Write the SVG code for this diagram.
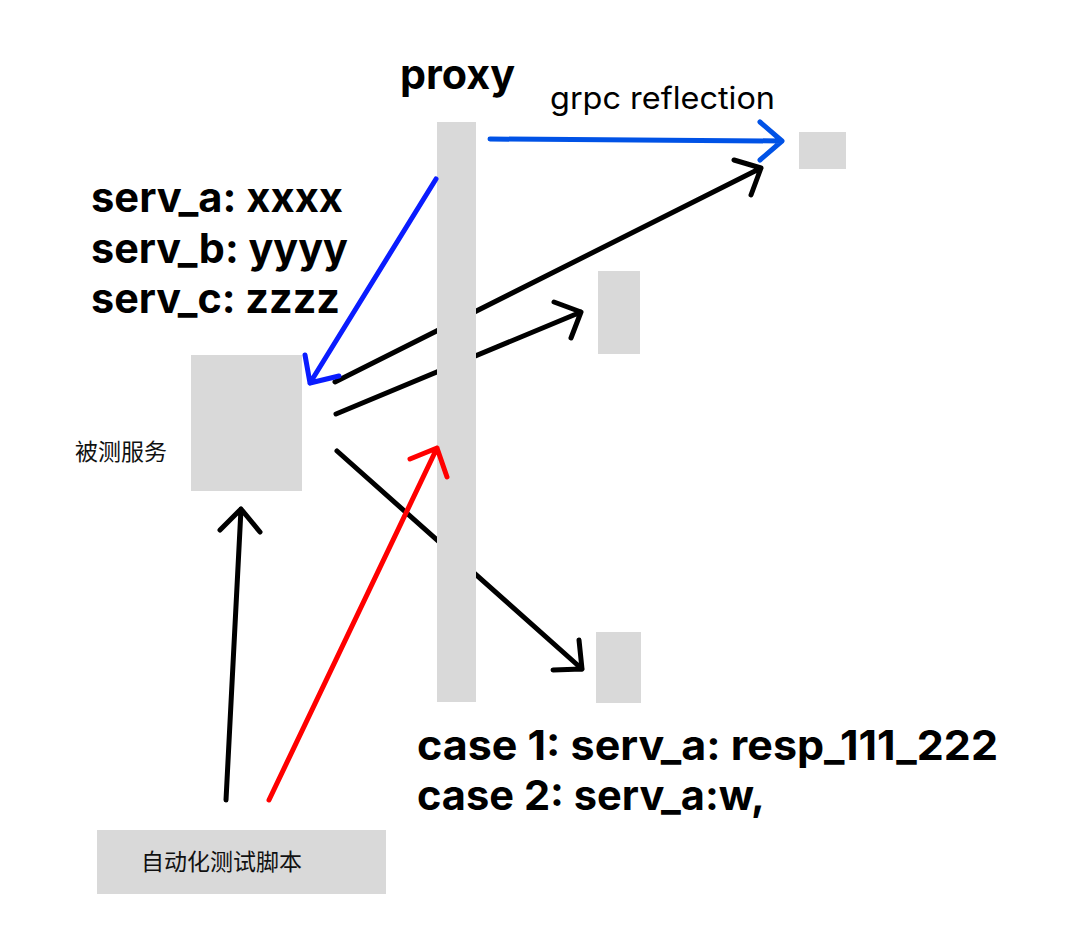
<svg xmlns="http://www.w3.org/2000/svg" width="1080" height="929" viewBox="0 0 1080 929">
<style>
.box{fill:#d9d9d9}
.ln{fill:none;stroke-width:5;stroke-linecap:round;stroke-linejoin:round}
.k{stroke:#000}
.b1{stroke:#0052e6}
.b2{stroke:#0a1cff}
.r{stroke:#ff0000}
.big{font-family:Inter,"Liberation Sans",sans-serif;font-weight:700;font-size:41px;fill:#000}
.reg{font-family:Inter,"Liberation Sans",sans-serif;font-weight:400;fill:#000}
.cjk{font-family:"Noto Sans CJK SC","Noto Sans",sans-serif;font-size:23px;fill:#111}
</style>
<rect width="1080" height="929" fill="#fff"/>
<g id="connectors">
<path class="ln k" d="M335 382 L761 168 M734 160 L761 168 L751 195"/>
<path class="ln k" d="M336 414 L581 312 M554 302 L581 312 L571 338"/>
<path class="ln k" d="M337 451 L582 669 M579 640 L582 669 L553 670"/>
<path class="ln k" d="M226 800 L241 509 M220 530 L241 509 L260 532"/>
<path class="ln b1" d="M490 139 L782 141 M760 122 L782 141 L760 160"/>
</g>
<g id="proxy">
<rect class="box" x="437" y="122" width="39" height="580"/>
<text class="big" x="400" y="89" textLength="115" lengthAdjust="spacingAndGlyphs">proxy</text>
</g>
<g id="reflection-target">
<rect class="box" x="799" y="132" width="47" height="37"/>
<text class="reg" x="550" y="109" font-size="31" textLength="225" lengthAdjust="spacingAndGlyphs">grpc reflection</text>
</g>
<g id="serv-mid">
<rect class="box" x="598" y="271" width="42" height="83"/>
</g>
<g id="serv-bottom">
<rect class="box" x="596" y="632" width="45" height="71"/>
</g>
<g id="service-under-test">
<rect class="box" x="191" y="355" width="111" height="136"/>
<text class="cjk" x="75" y="460">被测服务</text>
</g>
<g id="test-script">
<rect class="box" x="97" y="830" width="289" height="64"/>
<text class="cjk" x="141" y="870">自动化测试脚本</text>
</g>
<g id="mapping-notes">
<text class="big" x="91" y="212" textLength="252" lengthAdjust="spacingAndGlyphs">serv_a: xxxx</text>
<text class="big" x="91" y="263" textLength="257" lengthAdjust="spacingAndGlyphs">serv_b: yyyy</text>
<text class="big" x="91" y="313" textLength="249" lengthAdjust="spacingAndGlyphs">serv_c: zzzz</text>
</g>
<g id="case-notes">
<text class="big" x="417" y="760" textLength="581" lengthAdjust="spacingAndGlyphs">case 1: serv_a: resp_111_222</text>
<text class="big" x="417" y="810" textLength="348" lengthAdjust="spacingAndGlyphs">case 2: serv_a:w,</text>
</g>
<g id="connectors-front">
<path class="ln b2" d="M436 179 L310 383 M305 355 L310 383 L339 376"/>
<path class="ln r" d="M269 800 L437 448 M410 459 L437 448 L447 477"/>
</g>
</svg>
